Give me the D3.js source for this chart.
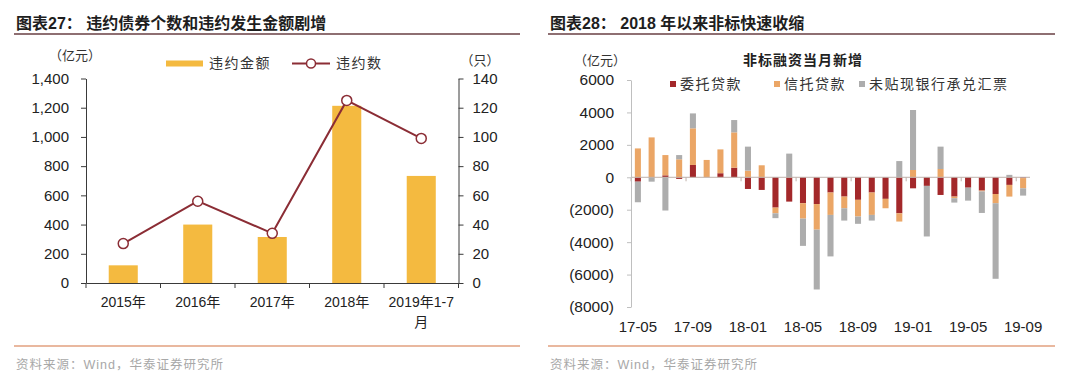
<!DOCTYPE html>
<html>
<head>
<meta charset="utf-8">
<script src="https://cdn.jsdelivr.net/npm/d3@7"></script>
<style>
  body { margin: 0; background: #fff; }
  text { font-family: Arial, "Liberation Sans", "Noto Sans CJK SC", sans-serif; }
  .cjk { font-family: "Noto Sans CJK SC", sans-serif; }
</style>
</head>
<body>
<svg id="chart" width="1080" height="390"></svg>
<script>
// ---- left panel data ----
const years = ['2015年', '2016年', '2017年', '2018年', '2019年1-7月'];
const defaultAmount = [121, 400, 315, 1213, 733];   // 亿元
const defaultCount = [27, 56, 34, 125, 99];         // 只

// ---- right panel data (亿元) ----
const months = ['17-05', '17-06', '17-07', '17-08', '17-09', '17-10', '17-11', '17-12',
                '18-01', '18-02', '18-03', '18-04', '18-05', '18-06', '18-07', '18-08',
                '18-09', '18-10', '18-11', '18-12', '19-01', '19-02', '19-03', '19-04',
                '19-05', '19-06', '19-07', '19-08', '19-09'];
const entrustLoans = [-270, 0, 120, -100, 760, 0, 250, 590,
                      -720, -780, -1870, -1500, -1600, -1650, -940, -1190,
                      -1390, -940, -1330, -2220, -680, -530, -1090, -1190,
                      -640, -820, -1030, -470, -50];
const trustLoans = [1780, 2460, 1250, 1110, 2260, 1070, 1470, 2180,
                    410, 740, -350, 0, -950, -1580, -1380, -720,
                    -1030, -1380, -580, -510, 450, 0, 510, -100,
                    0, -50, -570, -720, -630];
const bankBills = [-1270, -270, -2050, 260, 920, 0, 0, 760,
                   1480, 0, -300, 1460, -1680, -3690, -2560, -760,
                   -450, -350, 0, 1000, 3700, -3120, 1380, -270,
                   -800, -1330, -4660, 150, -450];
const seriesNames = ['委托贷款', '信托贷款', '未贴现银行承兑汇票'];

const svg = d3.select('#chart');
svg.append('rect').attr('width', 1080).attr('height', 390).attr('fill', '#fff');

// title, rules and source for one panel
function drawFrame(x0, x1, title) {
    svg.append('text')
        .attr('x', x0 + 2).attr('y', 23).attr('dy', '0.35em')
        .attr('font-size', 16).attr('font-weight', 'bold').attr('fill', '#1e1e1e')
        .text(title);
    svg.append('line')
        .attr('x1', x0).attr('x2', x1).attr('y1', 34).attr('y2', 34)
        .attr('stroke', '#8e6f72').attr('stroke-width', 2);
    svg.append('line')
        .attr('x1', x0).attr('x2', x1).attr('y1', 346).attr('y2', 346)
        .attr('stroke', '#e2a07f').attr('stroke-width', 1.5);
    svg.append('text')
        .attr('x', x0 + 2).attr('y', 365).attr('dy', '0.35em')
        .attr('font-size', 12.5).attr('fill', '#a8a8a8').attr('letter-spacing', 1)
        .text('资料来源：Wind，华泰证券研究所');
}

drawFrame(14, 520, '图表27： 违约债券个数和违约发生金额剧增');
drawFrame(548, 1055, '图表28： 2018 年以来非标快速收缩');

// wrap a tick label character by character to the band width
function wrapLabel(sel, width, lineHeight) {
    sel.each(function () {
        const t = d3.select(this);
        const chars = t.text().split('');
        const y = t.attr('y');
        const dy = parseFloat(t.attr('dy'));
        t.text(null);
        let line = '';
        let tspan = t.append('tspan').attr('x', 0).attr('y', y).attr('dy', dy + 'em');
        let n = 0;
        chars.forEach(c => {
            tspan.text(line + c);
            if (tspan.node().getComputedTextLength() > width && line) {
                tspan.text(line);
                line = c;
                n++;
                tspan = t.append('tspan').attr('x', 0).attr('y', y)
                    .attr('dy', (dy + n * lineHeight) + 'em').text(c);
            } else {
                line += c;
            }
        });
    });
}

// ================= left chart =================
const barColor = '#f4ba40';
const lineColor = '#8b2d35';

const xL = d3.scaleBand().domain(years).range([86, 458.5])
    .paddingInner(0.61).paddingOuter(0.305);
const yL = d3.scaleLinear().domain([0, 1400]).range([283, 78.5]);
const yL2 = d3.scaleLinear().domain([0, 140]).range([283, 78.5]);
const leftRows = years.map((y, i) => ({ year: y, amount: defaultAmount[i], count: defaultCount[i] }));

svg.selectAll('.amt-bar')
    .data(leftRows)
    .enter()
    .append('rect')
    .attr('class', 'amt-bar')
    .attr('x', d => xL(d.year))
    .attr('y', d => yL(d.amount))
    .attr('width', xL.bandwidth())
    .attr('height', d => yL(0) - yL(d.amount))
    .attr('fill', barColor);

// axes
const gL = svg.append('g')
    .attr('transform', 'translate(86,0)')
    .call(d3.axisLeft(yL).tickValues(d3.range(0, 1401, 200))
        .tickFormat(d3.format(',')).tickSize(5).tickPadding(12).tickSizeOuter(0));
const gR = svg.append('g')
    .attr('transform', 'translate(458.5,0)')
    .call(d3.axisRight(yL2).tickValues(d3.range(0, 141, 20))
        .tickSize(5).tickPadding(9).tickSizeOuter(0));
const gX = svg.append('g')
    .attr('transform', 'translate(0,283)')
    .call(d3.axisBottom(xL).tickSize(0).tickPadding(14).tickSizeOuter(0));

[gL, gR, gX].forEach(g => {
    g.selectAll('path, line').attr('stroke', '#3a3a3a');
    g.selectAll('text').attr('font-size', 15).attr('fill', '#222');
});
gX.selectAll('text').attr('font-size', 14).call(wrapLabel, xL.step(), 1.45);

// ticks between categories
const edgeOff = xL.step() * xL.paddingInner() / 2;
const edges = years.map(d => xL(d) - edgeOff).concat(xL.range()[1]);
svg.selectAll('.x-edge')
    .data(edges)
    .enter()
    .append('line')
    .attr('class', 'x-edge')
    .attr('x1', d => d).attr('x2', d => d)
    .attr('y1', 283).attr('y2', 288)
    .attr('stroke', '#3a3a3a');

// line series
const cx = d => xL(d.year) + xL.bandwidth() / 2;
svg.append('path')
    .datum(leftRows)
    .attr('fill', 'none')
    .attr('stroke', lineColor)
    .attr('stroke-width', 2)
    .attr('d', d3.line().x(cx).y(d => yL2(d.count)));
svg.selectAll('.cnt-dot')
    .data(leftRows)
    .enter()
    .append('circle')
    .attr('class', 'cnt-dot')
    .attr('cx', cx)
    .attr('cy', d => yL2(d.count))
    .attr('r', 5)
    .attr('fill', '#fff')
    .attr('stroke', lineColor)
    .attr('stroke-width', 1.5);

// unit labels + legend
svg.append('text').attr('class', 'cjk').attr('x', 75).attr('y', 55).attr('dy', '0.35em')
    .attr('text-anchor', 'middle').attr('font-size', 13).attr('fill', '#333').text('（亿元）');
svg.append('text').attr('class', 'cjk').attr('x', 480).attr('y', 60).attr('dy', '0.35em')
    .attr('text-anchor', 'middle').attr('font-size', 13).attr('fill', '#333').text('（只）');

svg.append('rect').attr('x', 166).attr('y', 60.5).attr('width', 37).attr('height', 6)
    .attr('fill', barColor);
svg.append('text').attr('x', 209).attr('y', 63.5).attr('dy', '0.35em')
    .attr('font-size', 14).attr('letter-spacing', 1.5).attr('fill', '#333').text('违约金额');
svg.append('line').attr('x1', 292).attr('x2', 330).attr('y1', 63.5).attr('y2', 63.5)
    .attr('stroke', lineColor).attr('stroke-width', 2);
svg.append('circle').attr('cx', 311).attr('cy', 63.5).attr('r', 4.5)
    .attr('fill', '#fff').attr('stroke', lineColor).attr('stroke-width', 1.5);
svg.append('text').attr('x', 336).attr('y', 63.5).attr('dy', '0.35em')
    .attr('font-size', 14).attr('letter-spacing', 1.5).attr('fill', '#333').text('违约数');

// ================= right chart =================
const keys = ['entrust', 'trust', 'bill'];
const colors = { entrust: '#a3282a', trust: '#eba666', bill: '#adadad' };
const rightRows = months.map((m, i) => ({
    month: m, entrust: entrustLoans[i], trust: trustLoans[i], bill: bankBills[i]
}));
const stacked = d3.stack().keys(keys).offset(d3.stackOffsetDiverging)(rightRows);

const xR = d3.scaleBand().domain(months).range([631, 1030])
    .paddingInner(0.56).paddingOuter(0.28);
const yR = d3.scaleLinear().domain([-8000, 6000]).range([307, 80]);

svg.selectAll('.series')
    .data(stacked)
    .enter()
    .append('g')
    .attr('class', 'series')
    .attr('fill', d => colors[d.key])
    .selectAll('rect')
    .data(d => d)
    .enter()
    .append('rect')
    .attr('x', d => xR(d.data.month))
    .attr('y', d => yR(Math.max(d[0], d[1])))
    .attr('width', xR.bandwidth())
    .attr('height', d => Math.abs(yR(d[0]) - yR(d[1])));

// zero line with ticks every four months
svg.append('line')
    .attr('x1', xR.range()[0]).attr('x2', xR.range()[1])
    .attr('y1', yR(0)).attr('y2', yR(0))
    .attr('stroke', '#bfb0aa').attr('stroke-width', 1);
const rOff = xR.step() * xR.paddingInner() / 2;
svg.selectAll('.r-edge')
    .data(months.filter((d, i) => i % 4 === 0))
    .enter()
    .append('line')
    .attr('class', 'r-edge')
    .attr('x1', d => xR(d) - rOff).attr('x2', d => xR(d) - rOff)
    .attr('y1', yR(0)).attr('y2', yR(0) + 4)
    .attr('stroke', '#bfb0aa');

const gRY = svg.append('g')
    .attr('transform', 'translate(631,0)')
    .call(d3.axisLeft(yR).tickValues(d3.range(-8000, 6001, 2000))
        .tickFormat(d => d < 0 ? `(${-d})` : d)
        .tickSize(4).tickPadding(13).tickSizeOuter(0));
gRY.selectAll('path, line').attr('stroke', '#bfbfbf');
gRY.selectAll('text').attr('font-size', 15.5).attr('fill', '#222');

const gRX = svg.append('g')
    .attr('transform', 'translate(0,321)')
    .call(d3.axisBottom(xR).tickValues(months.filter((d, i) => i % 4 === 0)).tickSize(0).tickPadding(0));
gRX.select('.domain').remove();
gRX.selectAll('text').attr('font-size', 15).attr('fill', '#222');

// unit, chart title, legend
svg.append('text').attr('class', 'cjk').attr('x', 600).attr('y', 60).attr('dy', '0.35em')
    .attr('text-anchor', 'middle').attr('font-size', 13).attr('fill', '#333').text('（亿元）');
svg.append('text').attr('x', 803).attr('y', 60).attr('dy', '0.35em')
    .attr('text-anchor', 'middle').attr('font-size', 14).attr('font-weight', 'bold')
    .attr('letter-spacing', 1).attr('fill', '#222').text('非标融资当月新增');

const legendX = [670, 774, 859];
const legend = svg.selectAll('.r-legend')
    .data(keys)
    .enter()
    .append('g')
    .attr('class', 'r-legend')
    .attr('transform', (d, i) => `translate(${legendX[i]},84)`);
legend.append('rect').attr('x', 0).attr('y', -3).attr('width', 6).attr('height', 6)
    .attr('fill', d => colors[d]);
legend.append('text').attr('x', 10).attr('dy', '0.35em')
    .attr('font-size', 14).attr('letter-spacing', 1.5).attr('fill', '#333')
    .text((d, i) => seriesNames[i]);
</script>
</body>
</html>
